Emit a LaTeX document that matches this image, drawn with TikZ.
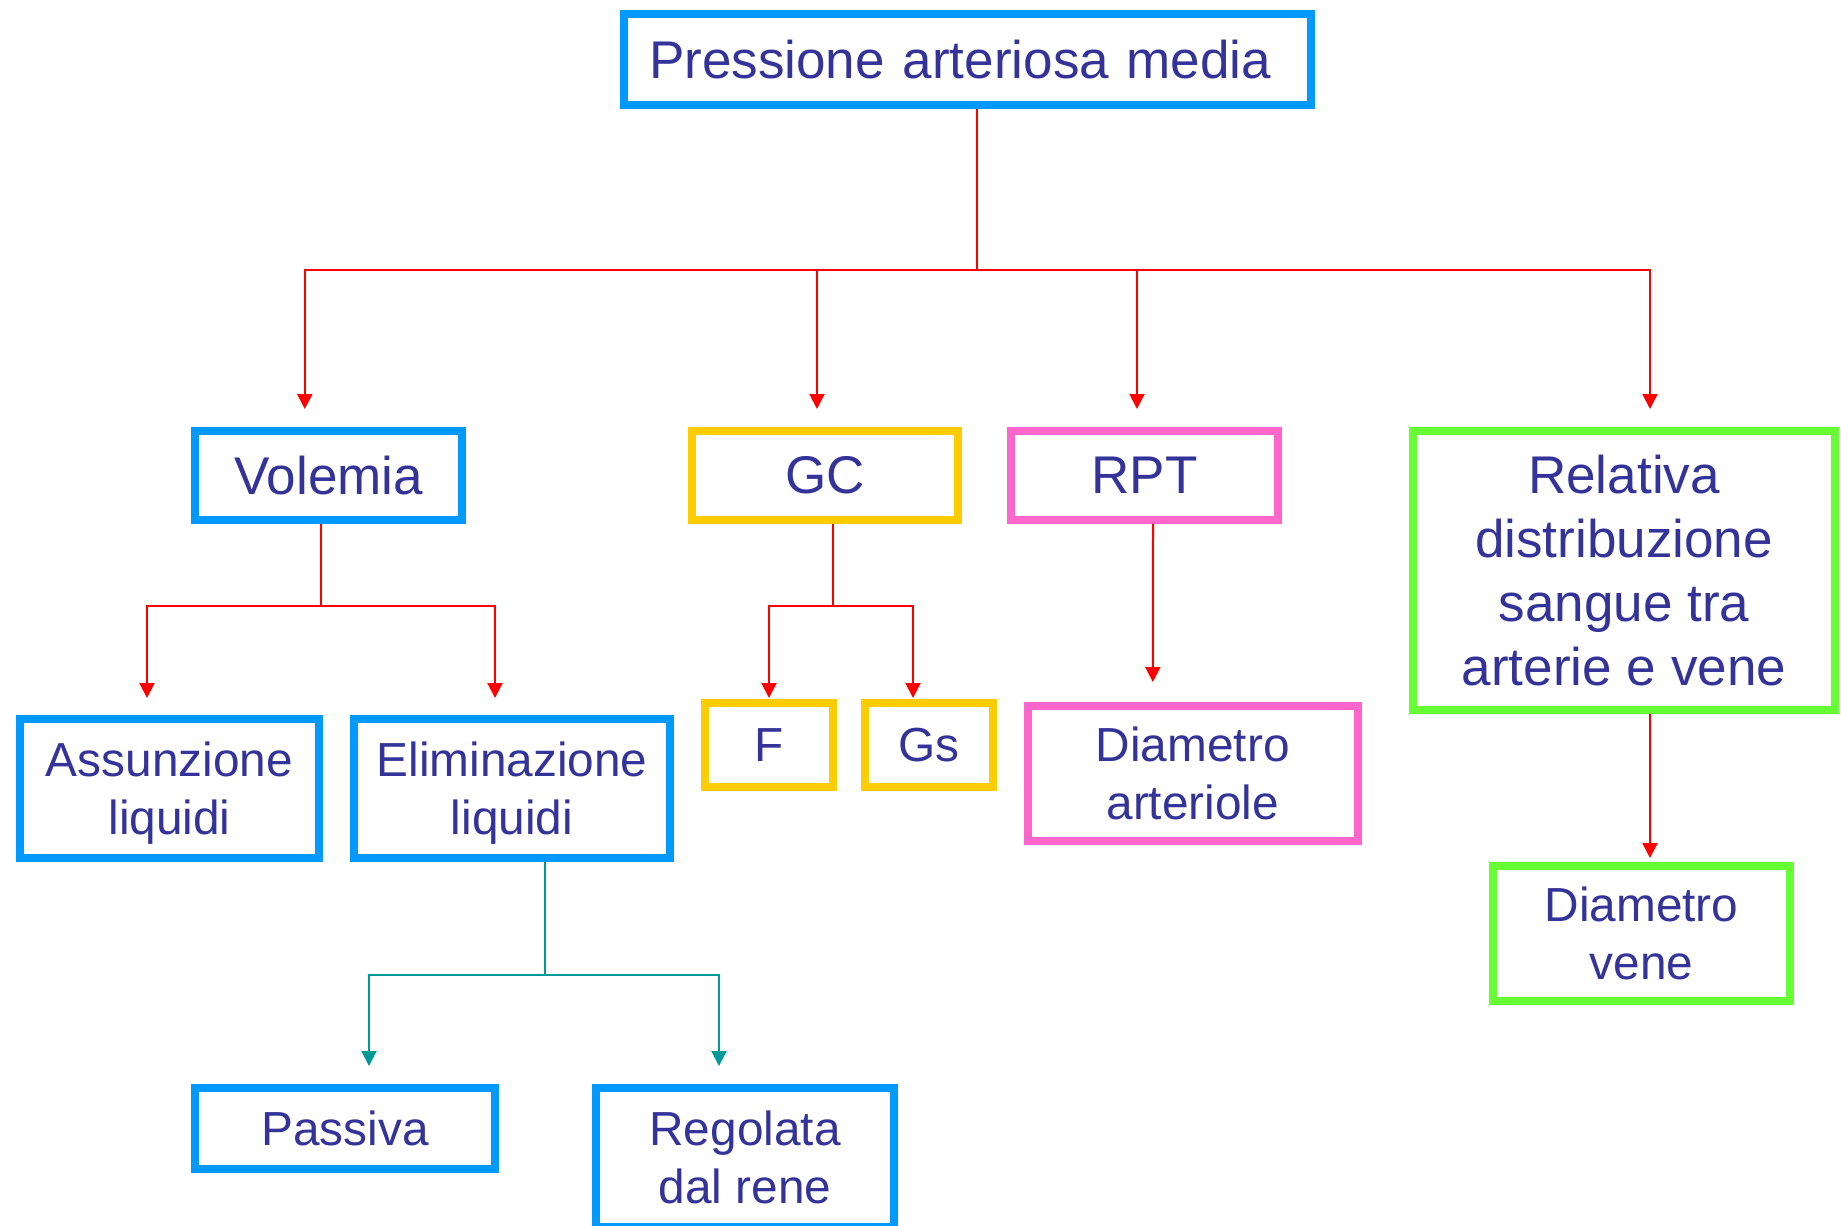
\documentclass[tikz,border=0pt]{standalone}
\usepackage{fontspec}
\setmainfont{Liberation Sans}
\usetikzlibrary{arrows.meta}
\definecolor{bblue}{RGB}{0,153,255}
\definecolor{byellow}{RGB}{255,204,0}
\definecolor{bpink}{RGB}{255,102,204}
\definecolor{bgreen}{RGB}{102,255,51}
\definecolor{tblue}{RGB}{51,51,153}
\definecolor{lteal}{RGB}{0,153,153}
\begin{document}
\begin{tikzpicture}[x=0.02cm, y=-0.02cm,
  box/.style={draw, line width=0.16cm, text=tblue, inner sep=0pt, align=center,
    font=\fontsize{30.2pt}{33pt}\selectfont},
  sbox/.style={box, font=\fontsize{27.2pt}{33pt}\selectfont},
  rline/.style={draw=red, line width=0.04cm},
  rarr/.style={rline, -{Triangle[length=0.3cm, width=0.3cm]}},
  tline/.style={draw=lteal, line width=0.04cm},
  tarr/.style={tline, -{Triangle[length=0.3cm, width=0.3cm]}}]
\clip (0,0) rectangle (1841,1226);
\node[box, draw=bblue, align=left, text width=12.74cm, inner xsep=0.5cm, minimum height=1.82cm] (nid0) at (967.5,59.5){Pressione arteriosa media};
\node[box, draw=bblue, minimum width=5.34cm, minimum height=1.78cm] (nid1) at (328.8,475.5){Volemia};
\node[box, draw=byellow, minimum width=5.32cm, minimum height=1.78cm] (nid2) at (825,475.5){GC};
\node[box, draw=bpink, minimum width=5.34cm, minimum height=1.78cm] (nid3) at (1144.5,475.5){RPT};
\node[box, draw=bgreen, minimum width=8.44cm, minimum height=5.58cm, font=\fontsize{30.2pt}{36.4pt}\selectfont] (nid4) at (1624,570.5){Relativa\\distribuzione\\sangue tra\\arterie e vene};
\coordinate (j0) at (977,270);
\draw[rline] (j0 |- nid0.south) -- (j0);
\draw[rarr, shorten >=0.36cm] (j0) -| ([xshift=-0.48cm]nid1.north);
\draw[rarr, shorten >=0.36cm] (j0) -| ([xshift=-0.16cm]nid2.north);
\draw[rarr, shorten >=0.36cm] (j0) -| ([xshift=-0.15cm]nid3.north);
\draw[rarr, shorten >=0.36cm] (j0) -| ([xshift=0.52cm]nid4.north);
\node[sbox, draw=bblue, text depth=0pt, minimum width=5.98cm, minimum height=2.78cm] (nid5) at (169.5,788.5){Assunzione\\liquidi};
\node[sbox, draw=bblue, text depth=0pt, minimum width=6.32cm, minimum height=2.78cm] (nid6) at (512,788.5){Eliminazione\\liquidi};
\coordinate (j1) at (321,606);
\draw[rline] (j1 |- nid1.south) -- (j1);
\draw[rarr, shorten >=0.34cm] (j1) -| ([xshift=-0.45cm]nid5.north);
\draw[rarr, shorten >=0.34cm] (j1) -| ([xshift=-0.34cm]nid6.north);
\node[sbox, draw=byellow, minimum width=2.56cm, minimum height=1.68cm] (nid9) at (769,745){F};
\node[sbox, draw=byellow, minimum width=2.56cm, minimum height=1.68cm] (nid10) at (929,745){Gs};
\coordinate (j2) at (833,606);
\draw[rline] (j2 |- nid2.south) -- (j2);
\draw[rarr, shorten >=0.02cm] (j2) -| (nid9.north);
\draw[rarr, shorten >=0.02cm] (j2) -| ([xshift=-0.32cm]nid10.north);
\node[sbox, draw=bpink, minimum width=6.61cm, minimum height=2.70cm] (nid7) at (1192.8,773.5){Diametro\\arteriole};
\draw[rarr, shorten >=0.4cm] ([xshift=0.17cm]nid3.south) -- ([xshift=-0.8cm]nid7.north);
\node[sbox, draw=bgreen, minimum width=5.94cm, minimum height=2.70cm] (nid8) at (1641.5,933.5){Diametro\\vene};
\draw[rarr, shorten >=0.08cm] ([xshift=0.52cm]nid4.south) -- ([xshift=0.17cm]nid8.north);
\node[sbox, draw=bblue, minimum width=6.0cm, minimum height=1.62cm] (nid11) at (345,1128.5){Passiva};
\node[sbox, draw=bblue, minimum width=5.96cm, minimum height=2.78cm] (nid12) at (745,1157.5){Regolata\\dal rene};
\coordinate (j3) at (545,975);
\draw[tline] (j3 |- nid6.south) -- (j3);
\draw[tarr, shorten >=0.36cm] (j3) -| ([xshift=0.48cm]nid11.north);
\draw[tarr, shorten >=0.36cm] (j3) -| ([xshift=-0.52cm]nid12.north);

\end{tikzpicture}
\end{document}
